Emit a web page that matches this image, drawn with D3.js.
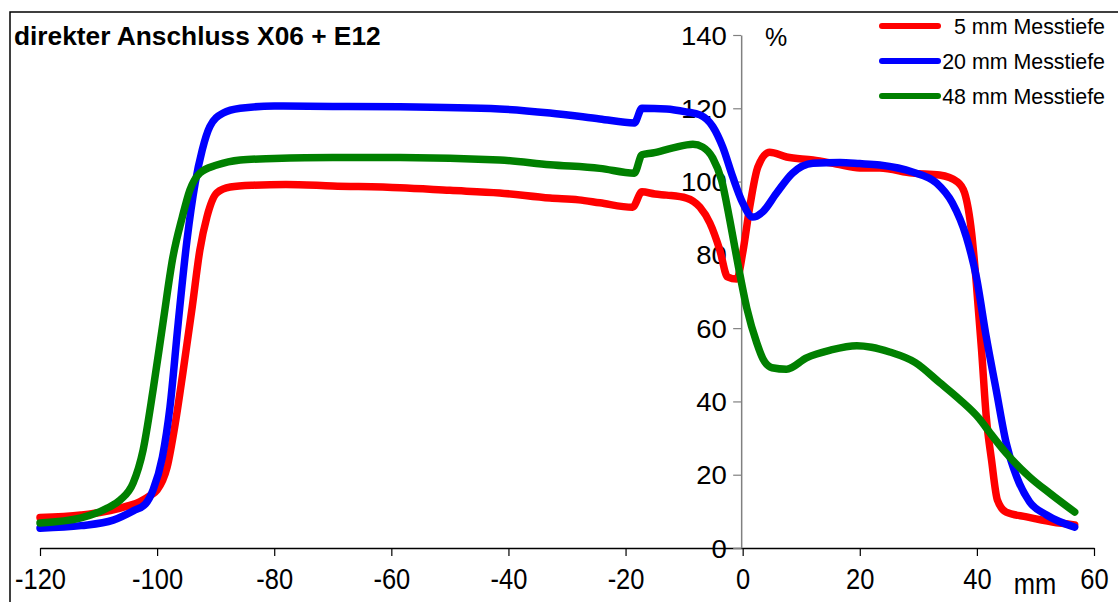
<!DOCTYPE html>
<html><head><meta charset="utf-8">
<script src="https://cdn.jsdelivr.net/npm/d3@7"></script>
<style>html,body{margin:0;padding:0;background:#fff}svg{display:block}</style>
</head><body>
<svg id="c" width="1118" height="602"></svg>
<script>
const title = "direkter Anschluss X06 + E12";
const seriesNames = ["5 mm Messtiefe", "20 mm Messtiefe", "48 mm Messtiefe"];
const seriesColors = ["#ff0000", "#0000ff", "#008000"];
const xTicks = [-120, -100, -80, -60, -40, -20, 0, 20, 40, 60];
const yTicks = [0, 20, 40, 60, 80, 100, 120, 140];

const depth5 = [[-120,8.3],[-113,9.0],[-108,10.2],[-105,11.5],[-103,12.6],[-101,14.5],[-100,15.8],[-98.3,22],[-96.9,34],[-95.6,47.8],[-94,65.8],[-92.7,81.3],[-91.5,90.3],[-89.8,96.9],[-87.5,98.5],[-83.6,99],[-78,99.2],[-70,98.8],[-58.5,98.3],[-50,97.6],[-41.5,96.9],[-32.9,95.5],[-28,95],[-24.4,94.2],[-18.8,93],[-17.2,97.2],[-15,96.6],[-13,96.3],[-9.6,95.5],[-7.3,93],[-5.6,88.7],[-3.9,81.3],[-2.6,74],[-1,73.4],[0,80.5],[1.2,93],[2.6,104],[4.6,108],[7.5,106.7],[12,105.9],[16,104.8],[20,103.7],[23.4,103.7],[29,102.3],[33.6,101.8],[36.7,99.9],[37.9,96.9],[39.1,86],[39.9,72.3],[40.8,54],[41.6,35.8],[42.5,24],[43.5,13.1],[45,9.8],[48.5,8.5],[52.9,7.1],[56.7,6.3]];
const depth20 = [[-120,5.4],[-113,6.1],[-107.5,7.6],[-104,10.2],[-102,12],[-100.7,15.8],[-99.1,24.8],[-97.8,38.5],[-96.4,61.4],[-94.9,84],[-93.5,99.6],[-92.3,108.6],[-91,115],[-88.7,118.7],[-85.8,120],[-80,120.6],[-70,120.5],[-58.5,120.4],[-41.5,119.8],[-32.9,118.7],[-24.4,117.1],[-18.5,116],[-17.2,120],[-13,119.8],[-9.6,119],[-7.3,118.2],[-5.1,115],[-3.4,109.4],[-1.7,101.3],[0,94.2],[1.7,90.3],[3.4,91.7],[5.8,96.9],[8.5,102.3],[12,105],[16.6,105.2],[20,104.9],[23.4,104.5],[29,102.6],[33.1,99.6],[35.8,94.2],[38.2,84.9],[39.9,74],[41.6,57.6],[43.3,43.1],[45,28.7],[46.8,19.4],[49,12.6],[51.9,9],[56.7,5.7]];
const depth48 = [[-120,6.8],[-113,8.2],[-108.5,10.9],[-106.3,13.1],[-104.1,17.7],[-102.4,26.7],[-100.7,43],[-99,61.4],[-97.3,79.4],[-95.7,90.3],[-94.4,97.7],[-92.7,102.3],[-89.8,104.5],[-85.8,105.9],[-80,106.3],[-70,106.6],[-58.5,106.6],[-41.5,105.9],[-32.9,104.6],[-24.4,103.6],[-18.5,102.3],[-17.2,107.3],[-15.4,107.8],[-11.9,109.2],[-8.5,110.2],[-6.8,109.4],[-5.1,106.4],[-3.6,100.4],[-2.2,89.5],[-0.85,77.8],[0.7,65.5],[2.4,56],[3.5,51.5],[5,49.2],[7.5,48.8],[10.9,51.9],[15,54],[19.5,55.2],[22,54.8],[25.1,53.5],[29.5,50.6],[33.6,45.2],[37,40.6],[40.4,35.3],[42.2,31.5],[45,25.9],[49,19.4],[52.4,15],[56.7,9.8]];
const allSeries = [depth5, depth20, depth48];

const svg = d3.select("#c");
const font = "'Liberation Sans', Arial, sans-serif";

// outer frame
svg.append("rect").attr("x",10).attr("y",12).attr("width",1130).attr("height",620)
  .attr("fill","none").attr("stroke","#000").attr("stroke-width",1.5);

const x = d3.scaleLinear().domain([-120,60]).range([40,1094]);
const y = d3.scaleLinear().domain([0,140]).range([548,35]);

// x axis
const gx = svg.append("g").attr("transform",`translate(0,${y(0)})`)
  .call(d3.axisBottom(x).tickValues(xTicks).tickSize(8).tickSizeOuter(0).tickFormat(d => String(d)));
gx.select(".domain").attr("stroke","#000").attr("stroke-width",1.3);
gx.selectAll(".tick line").attr("stroke","#000").attr("stroke-width",1.2);
gx.selectAll(".tick text").attr("font-family",font).attr("font-size",30).attr("fill","#000")
  .attr("y",20).attr("dy","0.71em").attr("transform","scale(0.85,1)");

// y axis
const gy = svg.append("g").attr("transform",`translate(${x(0)-1.5},0)`)
  .call(d3.axisLeft(y).tickValues(yTicks).tickSize(8).tickSizeOuter(0).tickFormat(d => String(d)));
gy.select(".domain").attr("stroke","#808080").attr("stroke-width",1.5);
gy.selectAll(".tick line").attr("stroke","#808080").attr("stroke-width",1.2);
gy.selectAll(".tick text").attr("font-family",font).attr("font-size",25).attr("fill","#000")
  .attr("x",-13).attr("dy","0.36em").attr("transform","scale(1.1,1)");

// unit labels
svg.append("text").attr("x",776).attr("y",46).attr("text-anchor","middle")
  .attr("font-family",font).attr("font-size",25).text("%");
svg.append("text").attr("x",1035/0.85).attr("y",594).attr("text-anchor","middle")
  .attr("transform","scale(0.85,1)")
  .attr("font-family",font).attr("font-size",30).text("mm");

// lines
const line = d3.line().x(d=>x(d[0])).y(d=>y(d[1])).curve(d3.curveMonotoneX);
allSeries.forEach((s,i)=>{
  svg.append("path").datum(s).attr("d",line).attr("fill","none")
    .attr("stroke",seriesColors[i]).attr("stroke-width",7.5)
    .attr("stroke-linejoin","round").attr("stroke-linecap","round");
});

// title
svg.append("text").attr("x",14).attr("y",45).attr("font-family",font)
  .attr("font-weight","bold").attr("font-size",26.3).text(title);

// legend
const legY = [26, 61, 96];
seriesNames.forEach((n,i)=>{
  svg.append("line").attr("x1",882).attr("x2",938).attr("y1",legY[i]).attr("y2",legY[i])
    .attr("stroke",seriesColors[i]).attr("stroke-width",6).attr("stroke-linecap","round");
  svg.append("text").attr("x",1105).attr("y",legY[i]+8).attr("text-anchor","end")
    .attr("font-family",font).attr("font-size",21.4).text(n);
});
</script>
</body></html>
